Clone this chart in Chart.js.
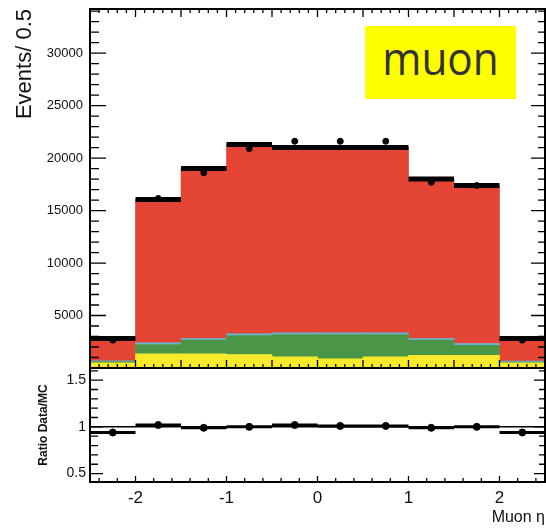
<!DOCTYPE html>
<html>
<head>
<meta charset="utf-8">
<script src="https://cdn.jsdelivr.net/npm/chart.js@4.4.1/dist/chart.umd.min.js"></script>
<style>
body { margin: 0; background: #fff; }
#wrap { position: relative; width: 546px; height: 532px; overflow: hidden; }
canvas { position: absolute; left: 0; }
#upper { top: 0; }
#lower { top: 366px; }
#tag {
    position: absolute; left: 365px; top: 26px; width: 151px; height: 73px;
    background: #ffff00; overflow: hidden;
}
#tag span {
    position: absolute; left: 0; width: 100%; text-align: center;
    top: 8px; line-height: 46px; font-family: "Open Sans", sans-serif;
    font-size: 46px; color: #333; transform: scaleX(0.92);
}
</style>
</head>
<body>
<div id="wrap">
    <canvas id="upper" width="546" height="368"></canvas>
    <canvas id="lower" width="546" height="166"></canvas>
    <div id="tag"><span>muon</span></div>
</div>
<script>
// bins of muon eta, width 0.5
const binLo = [-2.5, -2, -1.5, -1, -0.5, 0, 0.5, 1, 1.5, 2];
const binHi = [-2, -1.5, -1, -0.5, 0, 0.5, 1, 1.5, 2, 2.5];
const binCenters = [-2.25, -1.75, -1.25, -0.75, -0.25, 0.25, 0.75, 1.25, 1.75, 2.25];

// stacked MC contributions (bottom to top)
const yellowMC = [500, 1350, 1350, 1290, 1070, 880, 1070, 1200, 1200, 500];
const greenMC  = [120, 890, 1300, 1810, 2120, 2310, 2120, 1450, 970, 60];
const cyanMC   = [60, 160, 160, 160, 160, 160, 160, 160, 160, 100];
const redMC    = [2120, 13650, 16190, 18020, 17650, 17650, 17650, 15190, 15050, 2140];
const mcTotal  = [2800, 16050, 19000, 21280, 21000, 21000, 21000, 18000, 17380, 2800];

const dataEvents = [2650, 16150, 18600, 20900, 21600, 21600, 21600, 17700, 17380, 2650];
const ratioValues = [0.94, 1.02, 0.99, 1.0, 1.02, 1.01, 1.01, 0.99, 1.0, 0.94];

const yTicksUpper = [5000, 10000, 15000, 20000, 25000, 30000];
const yTicksLower = [0.5, 1, 1.5];
const xTickLabels = [-2, -1, 0, 1, 2];

const fontFamily = "'Liberation Sans', Arial, sans-serif";

function binBars(vals) {
    return binCenters.map((c, i) => ({x: c, y: vals[i]}));
}

function stepSegments(vals) {
    const pts = [];
    vals.forEach((v, i) => {
        pts.push({x: binLo[i], y: v}, {x: binHi[i], y: v}, {x: binHi[i], y: null});
    });
    return pts;
}

function barSet(label, vals, color) {
    return {
        type: 'bar', label: label, data: binBars(vals), backgroundColor: color,
        borderWidth: 0, barPercentage: 1, categoryPercentage: 1, order: 2
    };
}

// no extra room for label overflow, the frame is placed by hand
function noPad(axis) {
    axis.paddingTop = 0;
    axis.paddingBottom = 0;
    axis.paddingLeft = 0;
    axis.paddingRight = 0;
}

// inward ticks + frame, ROOT style
const frameTicks = {
    id: 'frameTicks',
    afterDatasetsDraw(chart, args, opts) {
        const {ctx, chartArea: a, scales} = chart;
        const x = scales.x, y = scales.y;
        ctx.save();
        ctx.strokeStyle = '#000';
        ctx.lineWidth = 1.3;
        ctx.beginPath();
        for (let k = -25; k <= 25; k++) {
            if (k % opts.xStep !== 0) continue;
            const px = x.getPixelForValue(k / 10);
            const len = k % 10 === 0 ? opts.xMajor : (k % 5 === 0 ? opts.xMid : opts.xMinor);
            ctx.moveTo(px, a.bottom); ctx.lineTo(px, a.bottom - len);
            if (opts.top) { ctx.moveTo(px, a.top); ctx.lineTo(px, a.top + len); }
        }
        for (let v = opts.yFrom; v <= y.max + 1e-9; v += opts.yStep) {
            const py = y.getPixelForValue(v);
            if (py < a.top || py > a.bottom) continue;
            const major = Math.abs(v / opts.yMajorStep - Math.round(v / opts.yMajorStep)) < 1e-6;
            ctx.moveTo(a.left, py); ctx.lineTo(a.left + (major ? opts.yMajor : opts.yMinor), py);
            ctx.moveTo(a.right, py); ctx.lineTo(a.right - (major ? opts.yMajor - 2 : opts.yMinor - 2), py);
        }
        ctx.stroke();
        ctx.lineWidth = 2;
        ctx.strokeRect(a.left, a.top, a.right - a.left, a.bottom - a.top);
        ctx.restore();
    }
};

const upperChart = new Chart(document.getElementById('upper').getContext('2d'), {
    type: 'bar',
    data: {
        datasets: [
            {
                type: 'scatter', label: 'Data', data: binBars(dataEvents), stack: 'data',
                backgroundColor: '#000', borderColor: '#000', pointRadius: 3, order: 0
            },
            {
                type: 'line', label: 'MC', data: stepSegments(mcTotal), stack: 'band',
                borderColor: '#000', borderWidth: 5, pointRadius: 0, spanGaps: false, order: 1
            },
            barSet('yellow', yellowMC, 'rgb(247, 234, 42)'),
            barSet('green', greenMC, 'rgb(74, 149, 70)'),
            barSet('cyan', cyanMC, 'rgb(98, 184, 220)'),
            barSet('red', redMC, 'rgb(228, 68, 52)')
        ]
    },
    options: {
        responsive: false,
        animation: false,
        layout: {autoPadding: false, padding: {top: 9, right: 1, bottom: 0, left: 0}},
        plugins: {
            legend: {display: false},
            tooltip: {enabled: false},
            frameTicks: {
                top: true, xStep: 1, xMajor: 8, xMid: 8, xMinor: 4,
                yFrom: 0, yStep: 1000, yMajorStep: 5000, yMajor: 16, yMinor: 9
            }
        },
        scales: {
            x: {
                type: 'linear', min: -2.5, max: 2.5, stacked: true, offset: false,
                display: false, grid: {offset: false},
                afterFit: noPad
            },
            y: {
                stacked: true, min: 0, max: 34200,
                afterFit: (axis) => { axis.width = 90; noPad(axis); },
                afterBuildTicks: (axis) => { axis.ticks = yTicksUpper.map(v => ({value: v})); },
                grid: {display: false, drawTicks: false},
                border: {display: false},
                ticks: {
                    padding: 7, color: '#111',
                    font: {family: fontFamily, size: 13},
                    callback: (v) => String(v)
                },
                title: {
                    display: true, text: 'Events/ 0.5', align: 'end', color: '#111',
                    font: {family: fontFamily, size: 22}, padding: {top: 12, bottom: 0}
                }
            }
        }
    },
    plugins: [frameTicks]
});

const lowerChart = new Chart(document.getElementById('lower').getContext('2d'), {
    type: 'scatter',
    data: {
        datasets: [
            {
                label: 'Ratio', data: binBars(ratioValues),
                backgroundColor: '#000', borderColor: '#000', pointRadius: 3.5, order: 0
            },
            {
                type: 'line', label: 'Ratio bins', data: stepSegments(ratioValues),
                borderColor: '#000', borderWidth: 3, pointRadius: 0, spanGaps: false, order: 1
            },
            {
                type: 'line', label: 'Unity', data: [{x: -2.5, y: 1}, {x: 2.5, y: 1}],
                borderColor: '#000', borderWidth: 1.5, pointRadius: 0, order: 2
            }
        ]
    },
    options: {
        responsive: false,
        animation: false,
        layout: {autoPadding: false, padding: {top: 2, right: 1, bottom: 0, left: 0}},
        plugins: {
            legend: {display: false},
            tooltip: {enabled: false},
            frameTicks: {
                top: false, xStep: 2, xMajor: 6, xMid: 4, xMinor: 4,
                yFrom: 0.4, yStep: 0.1, yMajorStep: 0.5, yMajor: 13, yMinor: 8
            }
        },
        scales: {
            x: {
                type: 'linear', min: -2.5, max: 2.5,
                afterFit: (axis) => { axis.height = 50; noPad(axis); },
                afterBuildTicks: (axis) => { axis.ticks = xTickLabels.map(v => ({value: v})); },
                grid: {display: false, drawTicks: false},
                border: {display: false},
                ticks: {
                    padding: 6, color: '#111', maxRotation: 0,
                    font: {family: fontFamily, size: 17},
                    callback: (v) => String(v)
                },
                title: {
                    display: true, text: 'Muon η', align: 'end', color: '#111',
                    font: {family: fontFamily, size: 16}, padding: {top: 0, bottom: 5}
                }
            },
            y: {
                min: 0.41, max: 1.63,
                afterFit: (axis) => { axis.width = 90; noPad(axis); },
                afterBuildTicks: (axis) => { axis.ticks = yTicksLower.map(v => ({value: v})); },
                grid: {display: false, drawTicks: false},
                border: {display: false},
                ticks: {
                    padding: 4, color: '#111',
                    font: {family: fontFamily, size: 14},
                    callback: (v) => String(v)
                },
                title: {
                    display: true, text: 'Ratio Data/MC', align: 'center', color: '#111',
                    font: {family: fontFamily, size: 12, weight: 'bold'}, padding: {top: 36, bottom: 0}
                }
            }
        }
    },
    plugins: [frameTicks]
});
</script>
</body>
</html>
